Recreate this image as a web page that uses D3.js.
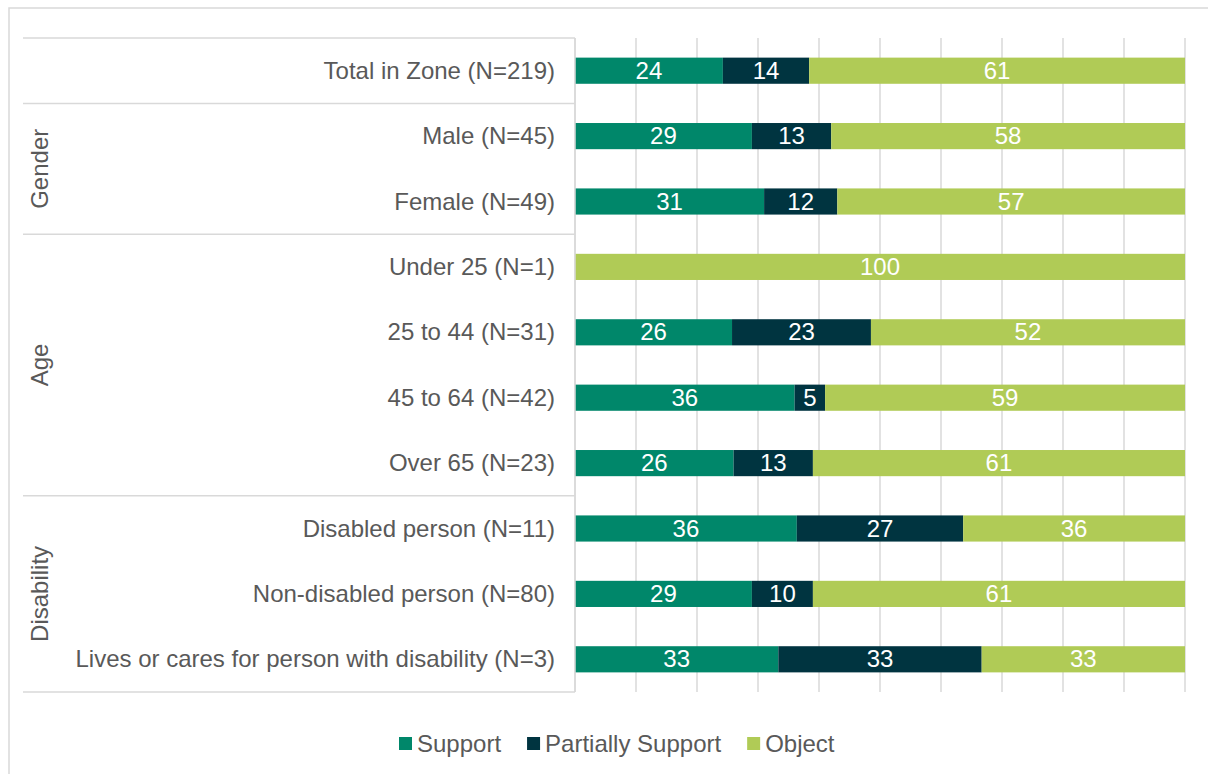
<!DOCTYPE html>
<html>
<head>
<meta charset="utf-8">
<script src="https://cdn.jsdelivr.net/npm/d3@7"></script>
<style>
  html, body { margin: 0; padding: 0; background: #fff; }
  svg { display: block; font-family: "Liberation Sans", Arial, sans-serif; }
</style>
</head>
<body>
<svg id="chart" width="1208" height="774"></svg>
<script>
// ---- data ----
const rows = [
  "Total in Zone (N=219)",
  "Male (N=45)",
  "Female (N=49)",
  "Under 25 (N=1)",
  "25 to 44 (N=31)",
  "45 to 64 (N=42)",
  "Over 65 (N=23)",
  "Disabled person (N=11)",
  "Non-disabled person (N=80)",
  "Lives or cares for person with disability (N=3)"
];
const support   = [24, 29, 31, 0, 26, 36, 26, 36, 29, 33];
const partially = [14, 13, 12, 0, 23, 5, 13, 27, 10, 33];
const object    = [61, 58, 57, 100, 52, 59, 61, 36, 61, 33];
const seriesNames = ["Support", "Partially Support", "Object"];
const seriesColors = ["#00876a", "#003440", "#b0cb56"];
const groups = [            // group label, first row, last row
  { name: "", from: 0, to: 0 },
  { name: "Gender", from: 1, to: 2 },
  { name: "Age", from: 3, to: 6 },
  { name: "Disability", from: 7, to: 9 }
];
const ticks = [0, 10, 20, 30, 40, 50, 60, 70, 80, 90, 100];

// ---- layout ----
const X0 = 575, X1 = 1185, Y0 = 38, Y1 = 692, SEP_X = 23;
const GRID = "#d9d9d9", TEXT = "#595959", FS = 24;

const svg = d3.select("#chart");

// outer border (runs off the right/bottom edge in the reference)
svg.append("rect").attr("x", 9).attr("y", 8).attr("width", 1400).attr("height", 1000)
  .attr("fill", "none").attr("stroke", GRID).attr("stroke-width", 1.5);

const table = rows.map((r, i) => ({ row: r, Support: support[i], "Partially Support": partially[i], Object: object[i] }));
const stack = d3.stack().keys(seriesNames).offset(d3.stackOffsetExpand)(table);

const x = d3.scaleLinear().domain([0, 1]).range([X0, X1]);
const y = d3.scaleBand().domain(rows).range([Y0, Y1]).paddingInner(0.6).paddingOuter(0.3);
const color = d3.scaleOrdinal().domain(seriesNames).range(seriesColors);
const edge = i => y(rows[i]) - y.step() * y.paddingInner() / 2;   // top edge of row i's slot

// gridlines
svg.append("g").selectAll("line").data(ticks).join("line")
  .attr("x1", d => x(d / 100)).attr("x2", d => x(d / 100))
  .attr("y1", Y0).attr("y2", Y1)
  .attr("stroke", GRID).attr("stroke-width", 1.5);

// group separators on the category side
const seps = groups.map(g => edge(g.from)).concat([Y1]);
svg.append("g").selectAll("line").data(seps).join("line")
  .attr("x1", SEP_X).attr("x2", X0).attr("y1", d => d).attr("y2", d => d)
  .attr("stroke", GRID).attr("stroke-width", 1.5);

// group labels, rotated
svg.append("g").selectAll("text").data(groups.filter(g => g.name)).join("text")
  .attr("transform", g => {
    const cy = (edge(g.from) + (g.to + 1 < rows.length ? edge(g.to + 1) : Y1)) / 2;
    return `translate(48,${cy}) rotate(-90)`;
  })
  .attr("text-anchor", "middle").attr("fill", TEXT).attr("font-size", FS)
  .text(g => g.name);

// row labels
svg.append("g").selectAll("text").data(rows).join("text")
  .attr("x", X0 - 20).attr("y", d => y(d) + y.bandwidth() / 2 + 8)
  .attr("text-anchor", "end").attr("fill", TEXT).attr("font-size", FS)
  .text(d => d);

// bars
const layer = svg.append("g").selectAll("g").data(stack).join("g")
  .attr("fill", s => color(s.key));
layer.selectAll("rect").data(s => s).join("rect")
  .attr("x", d => x(d[0])).attr("width", d => x(d[1]) - x(d[0]))
  .attr("y", d => y(d.data.row)).attr("height", y.bandwidth());

// value labels
layer.selectAll("text").data(s => s.map(d => ({ d, key: s.key }))).join("text")
  .filter(o => o.d.data[o.key] > 0)
  .attr("x", o => (x(o.d[0]) + x(o.d[1])) / 2)
  .attr("y", o => y(o.d.data.row) + y.bandwidth() / 2 + 8)
  .attr("text-anchor", "middle").attr("fill", "#fff").attr("font-size", FS)
  .text(o => o.d.data[o.key]);

// vertical category axis line
svg.append("line").attr("x1", X0).attr("x2", X0).attr("y1", Y0).attr("y2", Y1)
  .attr("stroke", GRID).attr("stroke-width", 1.5);

// legend
const legend = svg.append("g");
let lx = 399;
seriesNames.forEach((name, i) => {
  legend.append("rect").attr("x", lx).attr("y", 737).attr("width", 13).attr("height", 13)
    .attr("fill", seriesColors[i]);
  const t = legend.append("text").attr("x", lx + 18).attr("y", 752)
    .attr("fill", TEXT).attr("font-size", FS).text(name);
  lx += 18 + t.node().getComputedTextLength() + 26;
});
</script>
</body>
</html>
